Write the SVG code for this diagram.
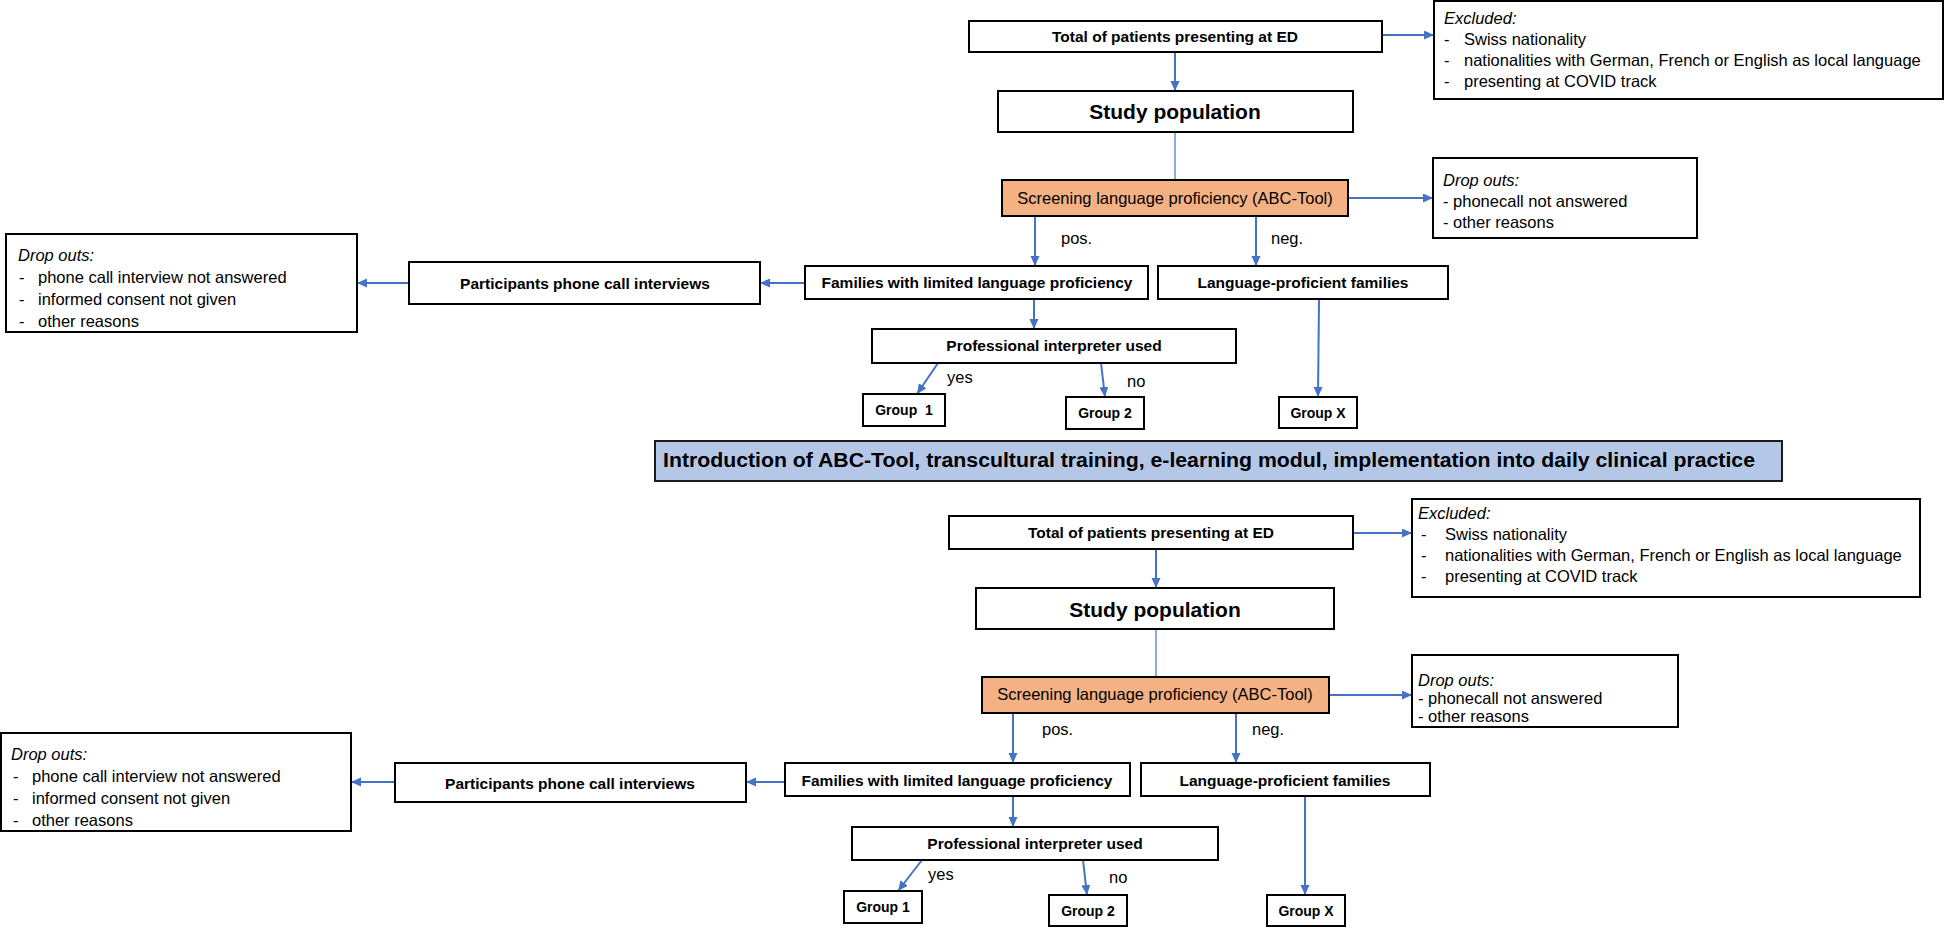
<svg xmlns="http://www.w3.org/2000/svg" width="1945" height="927" viewBox="0 0 1945 927">
<defs>
<style>
text{font-family:"Liberation Sans",Arial,sans-serif;fill:#000}
.box{fill:#fff;stroke:#000;stroke-width:2}
.scr{fill:#F4B183;stroke:#000;stroke-width:2}
.ban{fill:#B4C7E7;stroke:#1a1a1a;stroke-width:2}
.b{font-weight:bold;font-size:15.5px;text-anchor:middle}
.sp{font-weight:bold;font-size:21px;text-anchor:middle}
.g{font-weight:bold;font-size:14px;text-anchor:middle}
.r{font-size:16.5px}
.i{font-size:16.5px;font-style:italic}
.c{font-size:16.5px;text-anchor:middle}
.ar{fill:none;stroke:#4472C4;stroke-width:2;marker-end:url(#ah)}
.ln{fill:none;stroke:#4472C4;stroke-width:1.2}
</style>
<marker id="ah" markerUnits="userSpaceOnUse" markerWidth="11" markerHeight="10" refX="10" refY="4.5" orient="auto">
<path d="M0,0 L10,4.5 L0,9 Z" fill="#4472C4"/>
</marker>
</defs>
<rect width="1945" height="927" fill="#fff"/>

<g id="connectors">
<!-- top -->
<line class="ar" x1="1382" y1="35" x2="1434" y2="35"/>
<line class="ar" x1="1175" y1="52" x2="1175" y2="91"/>
<line class="ln" x1="1175" y1="132" x2="1175" y2="180"/>
<line class="ar" x1="1348" y1="198" x2="1433" y2="198"/>
<line class="ar" x1="1035" y1="216" x2="1035" y2="266"/>
<line class="ar" x1="1256" y1="216" x2="1256" y2="266"/>
<line class="ar" x1="805" y1="283" x2="760" y2="283"/>
<line class="ar" x1="409" y1="283" x2="357" y2="283"/>
<line class="ar" x1="1034" y1="299" x2="1034" y2="329"/>
<line class="ar" x1="938" y1="363" x2="917" y2="394"/>
<line class="ar" x1="1101" y1="363" x2="1105" y2="397"/>
<line class="ar" x1="1319" y1="299" x2="1318" y2="397"/>
<!-- bottom -->
<line class="ar" x1="1353" y1="533" x2="1412" y2="533"/>
<line class="ar" x1="1156" y1="549" x2="1156" y2="588"/>
<line class="ln" x1="1156" y1="629" x2="1156" y2="677"/>
<line class="ar" x1="1329" y1="695" x2="1412" y2="695"/>
<line class="ar" x1="1013" y1="713" x2="1013" y2="763"/>
<line class="ar" x1="1236" y1="713" x2="1236" y2="763"/>
<line class="ar" x1="786" y1="782" x2="746" y2="782"/>
<line class="ar" x1="395" y1="782" x2="351" y2="782"/>
<line class="ar" x1="1013" y1="796" x2="1013" y2="827"/>
<line class="ar" x1="922" y1="860" x2="898" y2="891"/>
<line class="ar" x1="1083" y1="860" x2="1087" y2="895"/>
<line class="ar" x1="1305" y1="796" x2="1305" y2="895"/>
<!-- labels -->
<text class="r" x="1061" y="244">pos.</text>
<text class="r" x="1271" y="244">neg.</text>
<text class="r" x="947" y="383">yes</text>
<text class="r" x="1127" y="387">no</text>
<text class="r" x="1042" y="735">pos.</text>
<text class="r" x="1252" y="735">neg.</text>
<text class="r" x="928" y="880">yes</text>
<text class="r" x="1109" y="883">no</text>
</g>

<!-- TOP SECTION -->
<g id="total1"><rect class="box" x="969" y="21" width="413" height="31"/><text class="b" x="1175" y="42">Total of patients presenting at ED</text></g>
<g id="excluded1"><rect class="box" x="1434" y="1" width="509" height="98"/>
<text class="i" x="1444" y="24">Excluded:</text>
<text class="r" x="1444" y="45">-<tspan x="1464">Swiss nationality</tspan></text>
<text class="r" x="1444" y="66">-<tspan x="1464">nationalities with German, French or English as local language</tspan></text>
<text class="r" x="1444" y="87">-<tspan x="1464">presenting at COVID track</tspan></text>
</g>
<g id="study1"><rect class="box" x="998" y="91" width="355" height="41"/><text class="sp" x="1175" y="119">Study population</text></g>
<g id="screening1"><rect class="scr" x="1002" y="180" width="346" height="36"/><text class="c" x="1175" y="204">Screening language proficiency (ABC-Tool)</text></g>
<g id="dropouts1"><rect class="box" x="1433" y="158" width="264" height="80"/>
<text class="i" x="1443" y="186">Drop outs:</text>
<text class="r" x="1443" y="207">- phonecall not answered</text>
<text class="r" x="1443" y="228">- other reasons</text>
</g>
<g id="families1"><rect class="box" x="805" y="266" width="343" height="33"/><text class="b" x="977" y="288">Families with limited language proficiency</text></g>
<g id="proficient1"><rect class="box" x="1158" y="266" width="290" height="33"/><text class="b" x="1303" y="288">Language-proficient families</text></g>
<g id="participants1"><rect class="box" x="409" y="262" width="351" height="42"/><text class="b" x="585" y="289">Participants phone call interviews</text></g>
<g id="dropoutsleft1"><rect class="box" x="6" y="234" width="351" height="98"/>
<text class="i" x="18" y="261">Drop outs:</text>
<text class="r" x="19" y="283">-<tspan x="38">phone call interview not answered</tspan></text>
<text class="r" x="19" y="305">-<tspan x="38">informed consent not given</tspan></text>
<text class="r" x="19" y="327">-<tspan x="38">other reasons</tspan></text>
</g>
<g id="interpreter1"><rect class="box" x="872" y="329" width="364" height="34"/><text class="b" x="1054" y="351">Professional interpreter used</text></g>
<g id="group1a"><rect class="box" x="863" y="394" width="82" height="32"/><text class="g" x="904" y="415" xml:space="preserve">Group  1</text></g>
<g id="group2a"><rect class="box" x="1066" y="397" width="78" height="32"/><text class="g" x="1105" y="418">Group 2</text></g>
<g id="groupXa"><rect class="box" x="1279" y="397" width="78" height="31"/><text class="g" x="1318" y="418">Group X</text></g>

<!-- BANNER -->
<g id="intervention"><rect class="ban" x="655" y="441" width="1127" height="40"/>
<text x="663" y="467" font-weight="bold" font-size="20" textLength="1092" lengthAdjust="spacingAndGlyphs">Introduction of ABC-Tool, transcultural training, e-learning modul, implementation into daily clinical practice</text></g>

<!-- BOTTOM SECTION -->
<g id="total2"><rect class="box" x="949" y="516" width="404" height="33"/><text class="b" x="1151" y="538">Total of patients presenting at ED</text></g>
<g id="excluded2"><rect class="box" x="1412" y="499" width="508" height="98"/>
<text class="i" x="1418" y="519">Excluded:</text>
<text class="r" x="1421" y="540">-<tspan x="1445">Swiss nationality</tspan></text>
<text class="r" x="1421" y="561">-<tspan x="1445">nationalities with German, French or English as local language</tspan></text>
<text class="r" x="1421" y="582">-<tspan x="1445">presenting at COVID track</tspan></text>
</g>
<g id="study2"><rect class="box" x="976" y="588" width="358" height="41"/><text class="sp" x="1155" y="617">Study population</text></g>
<g id="screening2"><rect class="scr" x="982" y="677" width="347" height="36"/><text class="c" x="1155" y="700">Screening language proficiency (ABC-Tool)</text></g>
<g id="dropouts2"><rect class="box" x="1412" y="655" width="266" height="72"/>
<text class="i" x="1418" y="686">Drop outs:</text>
<text class="r" x="1418" y="704">- phonecall not answered</text>
<text class="r" x="1418" y="722">- other reasons</text>
</g>
<g id="families2"><rect class="box" x="785" y="763" width="345" height="33"/><text class="b" x="957" y="786">Families with limited language proficiency</text></g>
<g id="proficient2"><rect class="box" x="1141" y="763" width="289" height="33"/><text class="b" x="1285" y="786">Language-proficient families</text></g>
<g id="participants2"><rect class="box" x="395" y="763" width="351" height="39"/><text class="b" x="570" y="789">Participants phone call interviews</text></g>
<g id="dropoutsleft2"><rect class="box" x="1" y="733" width="350" height="98"/>
<text class="i" x="11" y="760">Drop outs:</text>
<text class="r" x="13" y="782">-<tspan x="32">phone call interview not answered</tspan></text>
<text class="r" x="13" y="804">-<tspan x="32">informed consent not given</tspan></text>
<text class="r" x="13" y="826">-<tspan x="32">other reasons</tspan></text>
</g>
<g id="interpreter2"><rect class="box" x="852" y="827" width="366" height="33"/><text class="b" x="1035" y="849">Professional interpreter used</text></g>
<g id="group1b"><rect class="box" x="844" y="891" width="78" height="32"/><text class="g" x="883" y="912">Group 1</text></g>
<g id="group2b"><rect class="box" x="1049" y="895" width="78" height="31"/><text class="g" x="1088" y="916">Group 2</text></g>
<g id="groupXb"><rect class="box" x="1267" y="895" width="78" height="31"/><text class="g" x="1306" y="916">Group X</text></g>
</svg>
